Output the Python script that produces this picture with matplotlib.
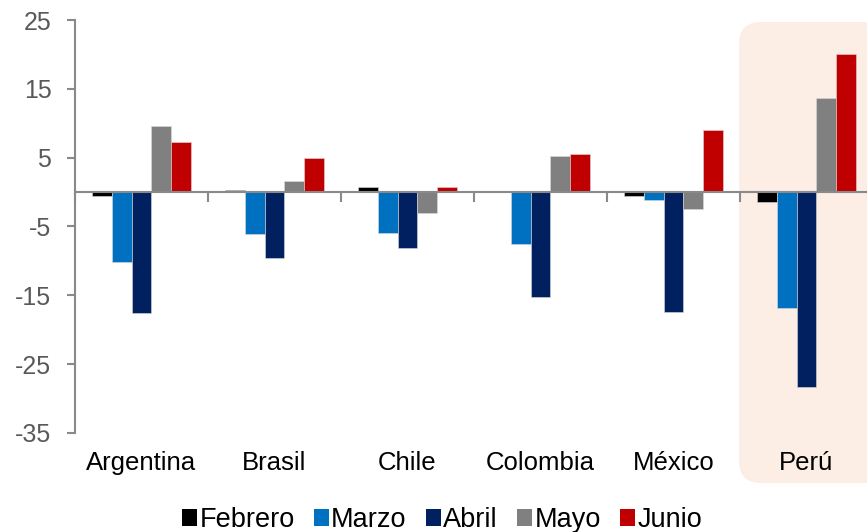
import numpy as np
import matplotlib
matplotlib.use('Agg')
import matplotlib.pyplot as plt
from matplotlib.patches import FancyBboxPatch, Patch
from matplotlib.transforms import blended_transform_factory

plt.rcParams['font.family'] = ['Liberation Sans', 'DejaVu Sans']
plt.rcParams['axes.unicode_minus'] = False

paises = ['Argentina', 'Brasil', 'Chile', 'Colombia', 'México', 'Perú']
meses = ['Febrero', 'Marzo', 'Abril', 'Mayo', 'Junio']

febrero = [-0.5, 0.25, 0.7, 0.0, -0.5, -1.5]
marzo = [-10.2, -6.1, -5.9, -7.5, -1.2, -16.9]
abril = [-17.5, -9.6, -8.1, -15.3, -17.4, -28.3]
mayo = [9.6, 1.6, -3.0, 5.3, -2.4, 13.7]
junio = [7.3, 4.9, 0.8, 5.5, 9.0, 20.0]

series = [febrero, marzo, abril, mayo, junio]
colores = ['#000000', '#0070C0', '#002060', '#808080', '#C00000']

fig = plt.figure(figsize=(8.67, 5.32), dpi=100)
ax = fig.add_axes([75 / 867, 1 - 433 / 532, 798 / 867, 413 / 532])
ax.patch.set_alpha(0)

# recuadro resaltado de Perú
caja = FancyBboxPatch((7.39, 0.49), 1.6, 4.61,
                      boxstyle='round,pad=0,rounding_size=0.22',
                      transform=fig.dpi_scale_trans,
                      facecolor='#FCEEE5', edgecolor='none', zorder=-5)
fig.patches.append(caja)

x = np.arange(len(paises))
ancho = 0.15
for i, (vals, col) in enumerate(zip(series, colores)):
    ax.bar(x + (i - 2) * ancho, vals, ancho, color=col,
           edgecolor='#d9d9d9', linewidth=0.4, zorder=2)

ax.set_xlim(-0.5, 5.5)
ax.set_ylim(-35, 25)
ax.set_yticks(np.arange(-35, 26, 10))
ax.tick_params(axis='y', length=6, width=1.5, color='#898989',
               labelsize=18, labelcolor='#595959', pad=11)

ax.spines['top'].set_visible(False)
ax.spines['right'].set_visible(False)
ax.spines['left'].set_color('#898989')
ax.spines['left'].set_linewidth(1.5)
ax.spines['bottom'].set_position(('data', 0))
ax.spines['bottom'].set_color('#898989')
ax.spines['bottom'].set_linewidth(1.5)
ax.spines['bottom'].set_zorder(3)

ax.set_xticks(np.arange(-0.5, 5.51, 0.5))
ax.set_xticklabels([])
ax.tick_params(axis='x', length=7, width=1.5, color='#898989')

trans = blended_transform_factory(ax.transData, fig.transFigure)
for xi, p in zip(x, paises):
    ax.text(xi, 1 - 463 / 532, p, transform=trans, ha='center', va='center',
            fontsize=18.5, color='black')

handles = [Patch(facecolor=c, edgecolor='none') for c in colores]
fig.legend(handles, meses, loc='center', bbox_to_anchor=(442 / 867, 12 / 532),
           ncol=5, frameon=False, fontsize=19.5, handlelength=0.55,
           handleheight=0.55, handletextpad=0.1, columnspacing=0.7,
           borderaxespad=0)

fig.savefig('out.png', dpi=100)
